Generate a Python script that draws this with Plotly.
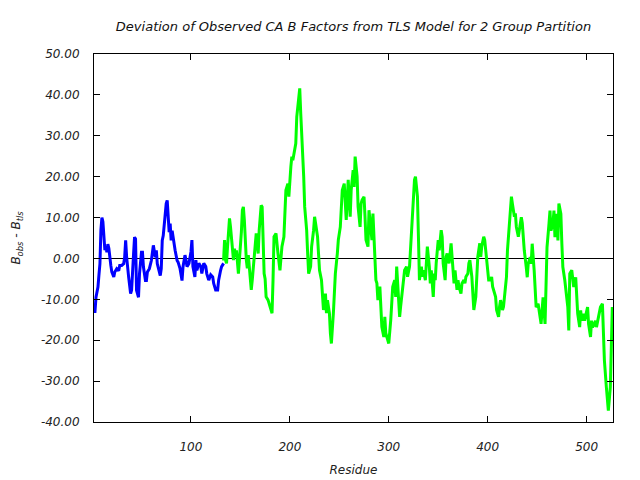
import plotly.graph_objects as go

# Group 1 (blue) residues and deviations
blue_res = [2, 3, 4, 6, 7, 8, 9, 10, 11, 12, 13, 14, 15, 16, 17, 19, 20, 22, 23, 25, 27, 28, 30, 32, 33, 34, 35, 37, 38, 39,
            40, 41, 42, 43, 44, 45, 47, 48, 49, 50, 51, 52, 54, 55, 56, 58, 60, 61, 62, 64, 65, 66, 68, 69, 70, 71, 72, 74, 75, 76,
            77, 78, 79, 80, 81, 83, 84, 86, 87, 89, 90, 91, 92, 94, 95, 96, 98, 100, 101, 102, 104, 105, 106, 108, 110, 111, 113, 115, 116, 118,
            120, 122, 123, 125, 127, 128, 130, 131, 133]
blue_val = [-13, -13, -9.5, -7, -4, -1.3, 7, 10, 9, 5, 2, 3, 1.5, 3.5, 2.5, -1.7, -3.3, -4.5, -3.3, -2.5, -3, -1.7, -1.7, -1.3, 0.3, 4.4, 0.3, -4.5, -7, -8.6,
            -7.8, -4.5, 1.1, 5.2, 4.8, -7.8, -9.5, -3.7, -0.5, 1.5, 1.5, -2.1, -5.4, -5.4, -3.3, -2.5, -0.5, 2.4, 3.2, 0.3, 2, -1.3, -3.7, -4.2, -2.5, 4.4, 5.6, 11.3, 13.4, 14.2,
            9.3, 6.4, 8.5, 4.4, 6.8, 2.8, 2, -0.5, -0.9, -2.5, -4.5, -5.4, -2, 0.8, -0.4, -2, -1.2, 1.6, 4.5, -2, -4.5, -0.4, -2.9, -1.2, -2, -3.7, -1.2, -2, -3.7, -5.3,
            -4, -4.5, -6.1, -7.7, -7.7, -5.3, -2.9, -2, -1.2]

# Group 2 (green) residues and deviations
green_res = [133, 134, 135, 136, 137, 138, 139, 140, 141, 142, 143, 144, 145, 146, 147, 148, 149, 150, 151, 152, 153, 154, 155, 156, 157, 158, 159, 160, 161, 162,
             163, 164, 165, 166, 167, 168, 169, 170, 171, 172, 173, 174, 175, 176, 178, 180, 182, 183, 184, 186, 187, 188, 190, 191, 192, 194, 195, 196, 198, 199,
             201, 202, 203, 205, 206, 207, 209, 210, 211, 213, 214, 215, 217, 218, 219, 221, 222, 224, 225, 226, 228, 229, 230, 232, 233, 234, 236, 237, 238, 240,
             241, 242, 244, 245, 246, 248, 249, 251, 252, 253, 255, 256, 257, 259, 260, 261, 262, 264, 265, 266, 268, 269, 271, 272, 273, 275, 276, 277, 279, 280,
             281, 283, 284, 285, 287, 288, 289, 291, 292, 293, 295, 296, 297, 299, 300, 302, 303, 304, 306, 307, 308, 310, 311, 312, 314, 315, 316, 318, 319, 321,
             322, 323, 325, 326, 327, 329, 330, 331, 333, 334, 335, 337, 338, 339, 341, 342, 343, 345, 346, 347, 348, 349, 350, 351, 353, 354, 355, 357, 358, 359,
             361, 362, 363, 365, 366, 367, 369, 370, 371, 373, 374, 376, 377, 378, 380, 381, 382, 384, 385, 386, 388, 389, 390, 392, 393, 394, 396, 397, 398, 400,
             401, 403, 404, 405, 407, 408, 409, 411, 412, 413, 415, 416, 417, 419, 420, 421, 423, 424, 425, 427, 428, 429, 431, 432, 433, 434, 435, 436, 437, 439,
             440, 441, 443, 444, 445, 447, 448, 449, 451, 452, 454, 455, 456, 458, 459, 460, 462, 463, 464, 466, 467, 468, 470, 471, 472, 474, 475, 476, 478, 479,
             481, 482, 483, 485, 486, 487, 489, 490, 491, 493, 494, 495, 497, 498, 500, 501, 502, 504, 505, 506, 508, 509, 510, 512, 513, 514, 516, 517, 518, 520,
             521, 522, 524, 525, 526]
green_val = [-0.5, 4.5, -0.4, -1.2, 2.9, 6.1, 9.8, 7.7, 4.9, 1.2, -0.4, 2.4, 0.4, 2, -2, -3.7, -0.4, 2.4, 6.5, 11.8, 12.6, 9.4, 3.7, -0.4, -2.4, 0.8, -2, -5.3, -7.7, -5.3,
             -2.9, -0.4, 2.9, 6.1, 3.7, 1.2, 6.9, 10.2, 13, 12.6, 6.1, -3.7, -5, -9.4, -10.2, -11.8, -13.4, -5.3, 5.3, 6.1, 2.9, 1.2, -2.9, 0.4, 2.9, 5.3, 11, 16.7, 18.3, 15.1,
             22.4, 24.9, 24, 26.5, 28.1, 34.6, 40.3, 41.6, 35.5, 26.5, 20, 12.6, 6.9, 1.2, -3.7, -2, 2.9, 6.9, 10.2, 8.6, 5.3, 1.2, -2.9, -5.3, -9.4, -12.6, -8.6, -13.4, -10.2, -13.4,
             -18.3, -20.8, -13.4, -8.6, -3.7, 1.2, 4.5, 7.7, 13.4, 16.7, 18.3, 13.4, 9.4, 19.2, 15.1, 10.2, 16.7, 21.6, 17.5, 24.9, 20, 12.6, 7.7, 13.4, 14.3, 15.1, 10.2, 4.5, 2.9, 11.8,
             9.4, 4.5, 11, 4.5, -5.3, -6.1, -10.2, -6.9, -11, -16.7, -19.2, -14.3, -18.3, -20, -20.8, -15.1, -11.8, -6.9, -5.3, -9.4, -2, -9.4, -14.3, -11.8, -7.7, -6.1, -2.9, -2, -4.5, -2,
             2, 8.6, 15.1, 19.2, 20, 15.1, 5.3, -5.3, -2, -4.5, -2.9, -5.3, -1.2, 2.9, -2, -6.1, -2.9, -9.4, -3.7, -5.3, -1, 1.2, 4.5, 2, 6.9, 5.3, -1.2, -5.3, 0.4, 1.2,
             -1.2, 1.2, 3.7, -2.9, -6.1, -2.9, -7.7, -5.3, -6.9, -8.6, -6.1, -5.3, -6.1, -4.5, -3.7, -1.2, -0.4, -4.5, -9.4, -12.6, -9.4, -4.5, 0.4, 3.7, 0.4, 2.9, 5.3, 4.5, 2, -3.7,
             -5.3, -5.3, -4.5, -6.9, -9, -9.4, -12.6, -14.3, -11.8, -10.2, -12.6, -11.8, -9.4, -4.5, 2, 5.3, 11.8, 15.1, 13.4, 10.2, 11, 7.7, 5.3, 6.9, 9.4, 10.1, 8.6, 5.2, 2, -2.1,
             -4.6, -1.3, 0.3, -1.3, 3.6, -2.9, -7.8, -11.9, -11.1, -12.7, -16, -12.7, -9.5, -16, -8.6, 2.8, 8.5, 11.7, 6.8, 8.5, 11.7, 5.2, 10.9, 4.4, 13.4, 10.9, 3.6, -2.1, -5.4, -7.8,
             -11.9, -17.6, -3.7, -2.9, -6.2, -7, -4.6, -10.3, -13.5, -16.8, -12.7, -15.2, -13.5, -15.2, -12.7, -11.9, -16, -19.2, -15.2, -16.8, -16, -15.2, -16.8, -14.3, -13.5, -11.9, -11.1, -17.6, -24.9, -31.5,
             -35.5, -37.2, -31.5, -19.2, -11.9]

x_ticks = [100, 200, 300, 400, 500]
y_ticks = [50, 40, 30, 20, 10, 0, -10, -20, -30, -40]

FONT = "DejaVu Sans"

fig = go.Figure()
fig.add_trace(go.Scatter(x=blue_res, y=blue_val, mode="lines",
                         line=dict(color="#0000ff", width=3), showlegend=False))
fig.add_trace(go.Scatter(x=green_res, y=green_val, mode="lines",
                         line=dict(color="#00ff00", width=3), showlegend=False))

fig.update_layout(
    width=640, height=480,
    paper_bgcolor="white", plot_bgcolor="white",
    margin=dict(l=94, r=27, t=54, b=58),
    font=dict(family=FONT, size=12, color="#222222", style="italic"),
    title=dict(text="Deviation of Observed CA B Factors from TLS Model for 2 Group Partition",
               xref="paper", x=0.5, xanchor="center",
               yref="container", y=0.944, yanchor="middle",
               font=dict(family=FONT, size=13, color="#111111", style="italic")),
)
fig.update_xaxes(
    range=[2, 526.7], tickvals=x_ticks, ticktext=[str(v) for v in x_ticks],
    showline=True, linecolor="black", linewidth=1, mirror="ticks",
    ticks="inside", ticklen=6, tickcolor="black", showgrid=False, zeroline=False,
    automargin=False,
    tickfont=dict(family=FONT, size=12, style="italic"), ticklabelstandoff=14,
    title=dict(text="Residue", font=dict(family=FONT, size=12, style="italic"), standoff=12),
)
fig.update_yaxes(
    range=[-40, 50], tickvals=y_ticks, ticktext=["%.2f" % v for v in y_ticks],
    showline=True, linecolor="black", linewidth=1, mirror="ticks",
    ticks="inside", ticklen=6, tickcolor="black", showgrid=False,
    zeroline=True, zerolinecolor="black", zerolinewidth=1,
    automargin=False,
    tickfont=dict(family=FONT, size=12, style="italic"), ticklabelstandoff=11,
    title=dict(text="B<sub>obs</sub> - B<sub>tls</sub>", font=dict(family=FONT, size=12, style="italic"), standoff=17),
)

fig.write_html("out.html", config={"displayModeBar": False},
               post_script="document.body.style.margin='0';")
